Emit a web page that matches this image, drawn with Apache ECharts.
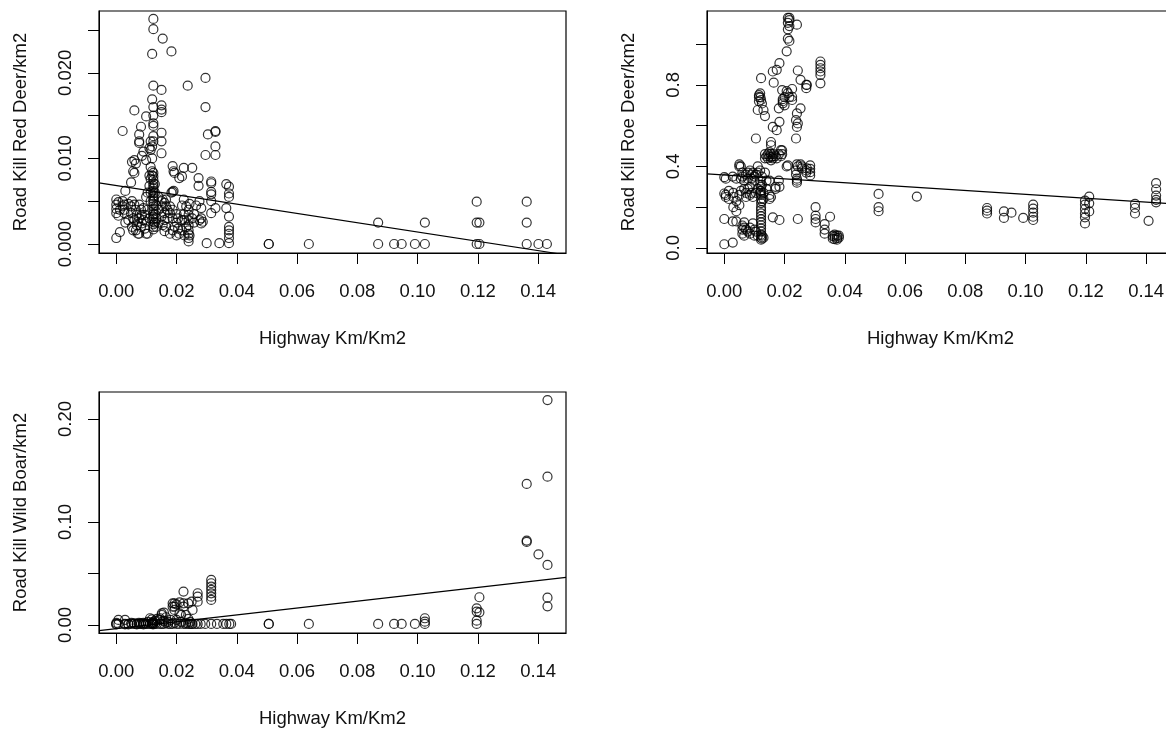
<!DOCTYPE html>
<html>
<head>
<meta charset="utf-8">
<script src="https://cdn.jsdelivr.net/npm/echarts@6/dist/echarts.min.js"></script>
<style>
  html, body { margin: 0; background: #fff; }
  #chart { width: 1166px; height: 729px; }
</style>
</head>
<body>
<div id="chart"></div>
<script>
// each column: [highway km/km2, y values...]
const redDeer = [
  [0.0000, 0.0052, 0.0046, 0.0041, 0.0036, 0.0007],
  [0.0007, 0.0049, 0.0033],
  [0.0012, 0.0014, 0.0040],
  [0.0021, 0.0132, 0.0050, 0.0044],
  [0.0027, 0.0040, 0.0036, 0.0046],
  [0.0030, 0.0062, 0.0025],
  [0.0040, 0.0047, 0.0028],
  [0.0049, 0.0072, 0.0036, 0.0044],
  [0.0052, 0.0096, 0.0050, 0.0020],
  [0.0056, 0.0085, 0.0030, 0.0016],
  [0.0060, 0.0156, 0.0098, 0.0083, 0.0028, 0.0046],
  [0.0065, 0.0094, 0.0016, 0.0040],
  [0.0068, 0.0022, 0.0034],
  [0.0072, 0.0026, 0.0012],
  [0.0076, 0.0128, 0.0120, 0.0118, 0.0046, 0.0012, 0.0030],
  [0.0082, 0.0137, 0.0040, 0.0020],
  [0.0085, 0.0103, 0.0034, 0.0024],
  [0.0090, 0.0108, 0.0042, 0.0028],
  [0.0095, 0.0034, 0.0018],
  [0.0099, 0.0149, 0.0098, 0.0055, 0.0012, 0.0026],
  [0.0104, 0.0012, 0.0040, 0.0060],
  [0.0110, 0.0112, 0.0080, 0.0068, 0.0030],
  [0.0114, 0.0110, 0.0120, 0.0090, 0.0076, 0.0060, 0.0050],
  [0.0119, 0.0222, 0.0169, 0.0114, 0.0100, 0.0085, 0.0080],
  [0.0123, 0.0263, 0.0251, 0.0185, 0.0160, 0.0150, 0.0141, 0.0138, 0.0126, 0.0120,
    0.0083, 0.0079, 0.0075, 0.0071, 0.0068, 0.0065, 0.0062, 0.0059, 0.0056, 0.0053,
    0.0050, 0.0047, 0.0044, 0.0041, 0.0038, 0.0035, 0.0032, 0.0029, 0.0026, 0.0023,
    0.0020, 0.0017],
  [0.0128, 0.0070, 0.0060, 0.0035, 0.0025],
  [0.0132, 0.0020, 0.0045, 0.0030],
  [0.0140, 0.0055, 0.0040, 0.0025],
  [0.0150, 0.0180, 0.0162, 0.0157, 0.0154, 0.0130, 0.0120, 0.0106, 0.0050, 0.0032],
  [0.0154, 0.0240, 0.0052, 0.0044, 0.0022],
  [0.0160, 0.0036, 0.0028, 0.0048, 0.0015],
  [0.0165, 0.0044, 0.0020, 0.0052],
  [0.0170, 0.0040, 0.0030],
  [0.0178, 0.0012, 0.0036, 0.0044],
  [0.0183, 0.0225, 0.0060],
  [0.0187, 0.0091, 0.0061, 0.0016, 0.0030, 0.0040],
  [0.0190, 0.0085, 0.0062],
  [0.0193, 0.0083, 0.0020],
  [0.0200, 0.0010, 0.0025, 0.0035],
  [0.0205, 0.0030, 0.0018],
  [0.0209, 0.0077, 0.0012],
  [0.0218, 0.0079, 0.0016, 0.0028, 0.0045],
  [0.0224, 0.0089, 0.0052, 0.0035],
  [0.0226, 0.0028, 0.0010],
  [0.0232, 0.0044, 0.0020],
  [0.0237, 0.0185],
  [0.0240, 0.0040, 0.0028, 0.0016, 0.0012, 0.0007, 0.0003, 0.0022, 0.0034],
  [0.0243, 0.0047, 0.0010],
  [0.0252, 0.0089, 0.0030],
  [0.0258, 0.0035, 0.0025],
  [0.0265, 0.0045],
  [0.0273, 0.0077, 0.0068],
  [0.0276, 0.0050, 0.0028],
  [0.0282, 0.0042, 0.0030, 0.0024],
  [0.0287, 0.0026],
  [0.0296, 0.0194, 0.0160, 0.0104],
  [0.0300, 0.0001],
  [0.0304, 0.0128],
  [0.0315, 0.0073, 0.0071, 0.0061, 0.0058, 0.0050, 0.0036],
  [0.0329, 0.0132, 0.0131, 0.0114, 0.0104, 0.0042],
  [0.0342, 0.0001],
  [0.0365, 0.0070, 0.0042],
  [0.0374, 0.0067, 0.0059, 0.0055, 0.0032, 0.0020, 0.0016, 0.0012, 0.0007, 0.0001],
  [0.0506, 0.0000, 0.0000],
  [0.0639, 0.0000],
  [0.0869, 0.0025, 0.0000],
  [0.0922, 0.0000],
  [0.0947, 0.0000],
  [0.0991, 0.0000],
  [0.1024, 0.0025, 0.0000],
  [0.1196, 0.00495, 0.0025, 0.0000],
  [0.1205, 0.0025, 0.0000],
  [0.1362, 0.00495, 0.0025, 0.0000],
  [0.1401, 0.0000],
  [0.1429, 0.0000]
];

const roeDeer = [
  [0.0000, 0.347, 0.267, 0.142, 0.018],
  [0.0005, 0.34, 0.26, 0.25],
  [0.0015, 0.28, 0.24],
  [0.0028, 0.35, 0.13, 0.026],
  [0.0030, 0.27, 0.25, 0.20],
  [0.0040, 0.34, 0.23, 0.18, 0.13],
  [0.0050, 0.41, 0.40, 0.26, 0.21],
  [0.0055, 0.40, 0.34, 0.28],
  [0.0060, 0.37, 0.35, 0.09, 0.11, 0.07],
  [0.0066, 0.33, 0.29, 0.125, 0.10, 0.06],
  [0.0072, 0.36, 0.25, 0.27, 0.09],
  [0.0078, 0.37, 0.34, 0.29, 0.08],
  [0.0085, 0.38, 0.30, 0.26, 0.10, 0.07],
  [0.0090, 0.36, 0.34, 0.27],
  [0.0095, 0.37, 0.25, 0.12],
  [0.0100, 0.35, 0.33, 0.09, 0.06],
  [0.0105, 0.537, 0.36, 0.27, 0.08],
  [0.0111, 0.677, 0.40, 0.37, 0.29, 0.06],
  [0.0115, 0.75, 0.74, 0.72],
  [0.0119, 0.759, 0.38, 0.33, 0.31],
  [0.0120, 0.739, 0.28, 0.27],
  [0.0122, 0.833, 0.726, 0.30, 0.28, 0.26, 0.24, 0.22, 0.20, 0.185, 0.17, 0.155,
    0.14, 0.125, 0.11, 0.095, 0.08, 0.065, 0.05, 0.04],
  [0.0125, 0.709, 0.35, 0.31, 0.23, 0.06, 0.045],
  [0.0130, 0.677, 0.27, 0.24, 0.05],
  [0.0135, 0.647, 0.46, 0.44, 0.37],
  [0.0140, 0.45, 0.33, 0.29],
  [0.0145, 0.46, 0.44],
  [0.0150, 0.47, 0.45, 0.33, 0.26, 0.24],
  [0.0155, 0.52, 0.504, 0.462, 0.446, 0.43, 0.25],
  [0.0161, 0.866, 0.594, 0.45, 0.44, 0.15],
  [0.0164, 0.811, 0.46],
  [0.0170, 0.45, 0.29, 0.30],
  [0.0174, 0.874, 0.578, 0.44],
  [0.0181, 0.685, 0.46, 0.33],
  [0.0183, 0.907, 0.619, 0.137, 0.30],
  [0.0188, 0.48, 0.45],
  [0.0192, 0.775, 0.479, 0.46],
  [0.0194, 0.71, 0.72, 0.73],
  [0.0200, 0.74, 0.70],
  [0.0207, 0.965, 0.77, 0.40],
  [0.0211, 1.129, 1.105, 1.073, 1.027, 0.405, 0.76],
  [0.0216, 1.129, 1.118, 1.089, 1.016, 0.74],
  [0.0225, 0.742, 0.726, 0.78],
  [0.0238, 0.627, 0.537, 0.38, 0.36],
  [0.0241, 1.096, 0.66, 0.594, 0.41, 0.34, 0.33, 0.32],
  [0.0244, 0.871, 0.611, 0.40, 0.142],
  [0.0253, 0.825, 0.685, 0.41],
  [0.0258, 0.40, 0.39],
  [0.0272, 0.80, 0.784, 0.38, 0.37],
  [0.0274, 0.80, 0.39],
  [0.0285, 0.405, 0.388, 0.372, 0.356],
  [0.0303, 0.20, 0.158, 0.142, 0.125],
  [0.0319, 0.915, 0.899, 0.882, 0.866, 0.849, 0.808],
  [0.0333, 0.117, 0.09, 0.07],
  [0.0351, 0.153],
  [0.0360, 0.059, 0.045],
  [0.0366, 0.043, 0.055, 0.065],
  [0.0374, 0.048, 0.06, 0.04],
  [0.0380, 0.05, 0.06],
  [0.0512, 0.265, 0.20, 0.18],
  [0.0639, 0.252],
  [0.0872, 0.196, 0.183, 0.169],
  [0.0928, 0.179, 0.147],
  [0.0953, 0.173],
  [0.0992, 0.147],
  [0.1025, 0.212, 0.193, 0.173, 0.153, 0.137],
  [0.1197, 0.232, 0.212, 0.191, 0.169, 0.15, 0.12],
  [0.1211, 0.252, 0.219, 0.179],
  [0.1363, 0.216, 0.196, 0.169],
  [0.1408, 0.133],
  [0.1433, 0.318, 0.288, 0.257, 0.236, 0.224]
];

const wildBoar = [
  [0.0000, 0.001, 0.002, 0.0005],
  [0.0007, 0.0049, 0.001],
  [0.0029, 0.0049, 0.001, 0.0005],
  [0.0040, 0.001, 0.0005],
  [0.0050, 0.001, 0.002],
  [0.0060, 0.001, 0.0015],
  [0.0068, 0.001, 0.0005],
  [0.0075, 0.001, 0.002],
  [0.0082, 0.001, 0.0015],
  [0.0090, 0.001, 0.002, 0.0005],
  [0.0098, 0.001, 0.0015],
  [0.0105, 0.001, 0.003],
  [0.0112, 0.0065, 0.001],
  [0.0118, 0.0055, 0.002, 0.001],
  [0.0122, 0.003, 0.002, 0.001, 0.0005, 0.0015],
  [0.0128, 0.004, 0.001],
  [0.0135, 0.001, 0.006],
  [0.0145, 0.0065, 0.0049, 0.001],
  [0.0151, 0.0113, 0.0097, 0.001],
  [0.0158, 0.012, 0.004, 0.001],
  [0.0165, 0.0075, 0.002],
  [0.0172, 0.003, 0.001],
  [0.0180, 0.0049, 0.001],
  [0.0187, 0.021, 0.0178, 0.001],
  [0.0193, 0.021, 0.0178, 0.0146, 0.002],
  [0.0200, 0.020, 0.005, 0.001],
  [0.0210, 0.022, 0.0113, 0.001],
  [0.0215, 0.0097, 0.003],
  [0.0223, 0.0324, 0.021, 0.0178, 0.001],
  [0.0231, 0.0097, 0.002, 0.001],
  [0.0239, 0.021, 0.006, 0.001],
  [0.0245, 0.003, 0.001],
  [0.0250, 0.0226, 0.001],
  [0.0253, 0.0146, 0.001],
  [0.0262, 0.001],
  [0.0270, 0.0308, 0.0275, 0.0226, 0.001],
  [0.0280, 0.001],
  [0.0295, 0.001],
  [0.0315, 0.0437, 0.0405, 0.0372, 0.034, 0.0307, 0.0275, 0.0243, 0.001],
  [0.0334, 0.001],
  [0.0355, 0.001],
  [0.0365, 0.001],
  [0.0375, 0.001],
  [0.0381, 0.001],
  [0.0506, 0.001, 0.001],
  [0.0639, 0.001],
  [0.0869, 0.001],
  [0.0922, 0.001],
  [0.0947, 0.001],
  [0.0991, 0.001],
  [0.1024, 0.0065, 0.0032, 0.001],
  [0.1196, 0.0162, 0.013, 0.0042, 0.001],
  [0.1205, 0.0269, 0.0123],
  [0.1362, 0.1369, 0.0819, 0.0806],
  [0.1401, 0.0686],
  [0.1431, 0.2184, 0.144, 0.0583, 0.0265, 0.0181]
];

// fitted lines: [intercept, slope]
const redFit = [0.00683, -0.0543];
const roeFit = [0.358, -0.95];
const boarFit = [-0.0036, 0.334];

const xTicks = [0, 0.02, 0.04, 0.06, 0.08, 0.10, 0.12, 0.14];
const redTicks = [0, 0.005, 0.010, 0.015, 0.020, 0.025];
const redLabels = [0, 0.010, 0.020];
const roeTicks = [0, 0.2, 0.4, 0.6, 0.8, 1.0];
const roeLabels = [0, 0.4, 0.8];
const boarTicks = [0, 0.05, 0.10, 0.15, 0.20];
const boarLabels = [0, 0.10, 0.20];

const xMin = -0.00574, xMax = 0.14924;
const font = 'Liberation Sans, Arial, Helvetica, sans-serif';

function flatten(cols) {
  const out = [];
  cols.forEach(c => {
    for (let i = 1; i < c.length; i++) out.push([c[0], c[i]]);
  });
  return out;
}

function fitLine(fit) {
  return [[xMin, fit[0] + fit[1] * xMin], [xMax, fit[0] + fit[1] * xMax]];
}

const textStyle = { color: '#111', fontSize: 18.5, fontFamily: font };

function xAxis(gridIndex) {
  return {
    type: 'value', gridIndex, min: xMin, max: xMax,
    axisLine: { show: true, onZero: false, lineStyle: { color: '#000', width: 1 } },
    splitLine: { show: false },
    axisTick: { show: true, customValues: xTicks, length: 11, lineStyle: { color: '#000', width: 1 } },
    axisLabel: Object.assign({ customValues: xTicks, margin: 29, formatter: v => v.toFixed(2) }, textStyle),
    name: 'Highway Km/Km2', nameLocation: 'middle', nameGap: 76,
    nameTextStyle: textStyle
  };
}

function yAxis(gridIndex, min, max, ticks, labels, digits, name) {
  return {
    type: 'value', gridIndex, min, max,
    axisLine: { show: true, onZero: false, lineStyle: { color: '#000', width: 1 } },
    splitLine: { show: false },
    axisTick: { show: true, customValues: ticks, length: 11, lineStyle: { color: '#000', width: 1 } },
    axisLabel: Object.assign({ customValues: labels, rotate: 90, margin: 24, formatter: v => v.toFixed(digits) }, textStyle),
    name, nameLocation: 'middle', nameRotate: 90, nameGap: 69,
    nameTextStyle: textStyle
  };
}

function scatter(i, cols) {
  return {
    type: 'scatter', xAxisIndex: i, yAxisIndex: i, data: flatten(cols),
    symbol: 'circle', symbolSize: 9, silent: true,
    itemStyle: { color: 'rgba(0,0,0,0)', borderColor: '#000', borderWidth: 1.2 }
  };
}

function line(i, fit) {
  return {
    type: 'line', xAxisIndex: i, yAxisIndex: i, data: fitLine(fit),
    symbol: 'none', clip: true, silent: true,
    lineStyle: { color: '#000', width: 1.1 }
  };
}

const gridBase = { show: true, borderColor: '#000', borderWidth: 1.2, backgroundColor: 'transparent', outerBoundsMode: 'none', containLabel: false };

const chart = echarts.init(document.getElementById('chart'));
chart.setOption({
  animation: false,
  backgroundColor: '#fff',
  grid: [
    Object.assign({ left: 99, top: 11, width: 467, height: 242 }, gridBase),
    Object.assign({ left: 707, top: 11, width: 467, height: 242 }, gridBase),
    Object.assign({ left: 99, top: 392, width: 467, height: 241 }, gridBase)
  ],
  xAxis: [xAxis(0), xAxis(1), xAxis(2)],
  yAxis: [
    yAxis(0, -0.00105, 0.02722, redTicks, redLabels, 3, 'Road Kill Red Deer/km2'),
    yAxis(1, -0.025, 1.163, roeTicks, roeLabels, 1, 'Road Kill Roe Deer/km2'),
    yAxis(2, -0.0078, 0.2262, boarTicks, boarLabels, 2, 'Road Kill Wild Boar/km2')
  ],
  series: [
    scatter(0, redDeer), line(0, redFit),
    scatter(1, roeDeer), line(1, roeFit),
    scatter(2, wildBoar), line(2, boarFit)
  ]
});
</script>
</body>
</html>
